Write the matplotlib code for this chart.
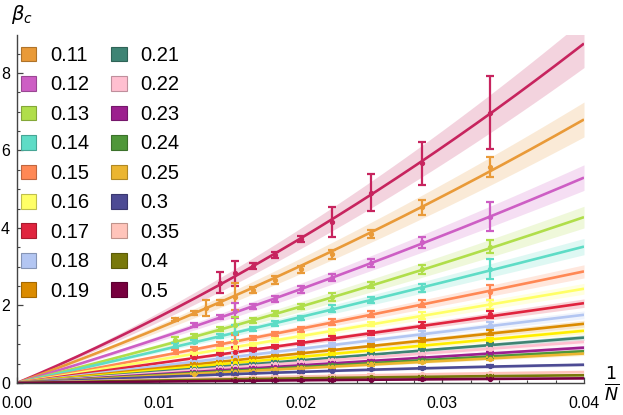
import numpy as np
import matplotlib
matplotlib.use('Agg')
import matplotlib.pyplot as plt
from matplotlib.patches import Patch
from matplotlib.ticker import MultipleLocator, FixedLocator

plt.rcParams['font.family'] = ['Liberation Sans', 'DejaVu Sans']

# fit parameter of each curve (legend label), 0.1 and 0.2 are drawn but not listed
params = ['0.1', '0.11', '0.12', '0.13', '0.14', '0.15', '0.16', '0.17', '0.18', '0.19',
          '0.2', '0.21', '0.22', '0.23', '0.24', '0.25', '0.3', '0.35', '0.4', '0.5']
legend_params = ['0.11', '0.12', '0.13', '0.14', '0.15', '0.16', '0.17', '0.18', '0.19',
                 '0.21', '0.22', '0.23', '0.24', '0.25', '0.3', '0.35', '0.4', '0.5']

# fitted curve beta = a/N + b/N^2
fit_a = [154, 132, 109.5, 90, 82, 68, 60, 51.5, 44, 38.2,
         33.7, 29.3, 26.5, 22.8, 20.5, 19, 17, 9.8, 7, 4]
fit_b = [1625, 950, 575, 425, 150, 100, 20, 0, 0, 0,
         0, 0, 0, 0, 0, 0, -130, -70, -50, -25]
# half width of the confidence band at 1/N = 0.04
band40 = [0.62, 0.45, 0.33, 0.28, 0.21, 0.17, 0.14, 0.11, 0.1, 0.09,
          0.08, 0.07, 0.07, 0.06, 0.05, 0.05, 0.04, 0.06, 0.03, 0.02]

# measured points
pt_n = [
    [70, 65, 60, 55, 50, 45, 40, 35, 30],
    [90, 80, 75, 70, 65, 60, 55, 50, 45, 40, 35, 30],
    [80, 70, 65, 60, 55, 50, 45, 40, 35, 30],
    [90, 80, 70, 65, 60, 55, 50, 45, 40, 35, 30],
    [90, 80, 70, 65, 60, 55, 50, 45, 40, 35, 30],
    [90, 80, 70, 65, 60, 55, 50, 45, 40, 35, 30],
    [80, 70, 65, 60, 55, 50, 45, 40, 35, 30],
    [80, 70, 65, 60, 55, 50, 45, 40, 35, 30],
    [80, 70, 65, 60, 55, 50, 45, 40, 35, 30],
    [80, 70, 65, 60, 55, 50, 45, 40, 35, 30],
    [80, 70, 65, 60, 55, 50, 45, 40, 35, 30],
    [80, 70, 65, 60, 55, 50, 45, 40, 35, 30],
    [80, 70, 65, 60, 55, 50, 45, 40, 35, 30],
    [80, 70, 65, 60, 55, 50, 45, 40, 35, 30],
    [80, 70, 65, 60, 55, 50, 45, 40, 35, 30],
    [80, 70, 65, 60, 55, 50, 45, 40, 35, 30],
    [70, 65, 60, 55, 50, 45, 40, 35, 30],
    [65, 60, 55, 50, 45, 40, 35, 30],
    [65, 60, 55, 50, 45, 40, 35, 30],
    [65, 60, 55, 50, 45, 40, 35, 30],
]
pt_beta = [
    [2.59, 2.83, 3.02, 3.30, 3.72, 4.15, 4.91, 5.67, 6.98],
    [1.64, 1.81, 1.94, 2.07, 2.23, 2.40, 2.66, 2.93, 3.32, 3.84, 4.53, 5.58],
    [1.50, 1.70, 1.87, 1.97, 2.16, 2.42, 2.72, 3.09, 3.63, 4.29],
    [1.11, 1.21, 1.39, 1.50, 1.62, 1.80, 1.97, 2.21, 2.53, 2.93, 3.52],
    [0.97, 1.07, 1.22, 1.30, 1.39, 1.54, 1.68, 1.92, 2.14, 2.46, 2.95],
    [0.80, 0.88, 1.00, 1.07, 1.15, 1.27, 1.38, 1.57, 1.78, 2.05, 2.34],
    [0.76, 0.87, 0.93, 1.00, 1.10, 1.22, 1.33, 1.52, 1.74, 2.03],
    [0.65, 0.74, 0.80, 0.86, 0.94, 1.03, 1.15, 1.30, 1.50, 1.78],
    [0.55, 0.63, 0.68, 0.73, 0.80, 0.88, 0.98, 1.10, 1.27, 1.50],
    [0.48, 0.55, 0.59, 0.64, 0.69, 0.77, 0.85, 0.96, 1.10, 1.30],
    [0.42, 0.48, 0.52, 0.56, 0.61, 0.67, 0.75, 0.84, 0.96, 1.12],
    [0.37, 0.42, 0.45, 0.49, 0.53, 0.59, 0.65, 0.73, 0.84, 0.98],
    [0.33, 0.38, 0.41, 0.44, 0.48, 0.53, 0.59, 0.66, 0.76, 0.88],
    [0.29, 0.33, 0.35, 0.38, 0.41, 0.46, 0.51, 0.57, 0.65, 0.76],
    [0.26, 0.29, 0.32, 0.34, 0.37, 0.41, 0.46, 0.51, 0.59, 0.68],
    [0.24, 0.27, 0.29, 0.32, 0.35, 0.38, 0.42, 0.48, 0.54, 0.63],
    [0.22, 0.23, 0.25, 0.27, 0.29, 0.32, 0.35, 0.39, 0.43],
    [0.134, 0.144, 0.155, 0.168, 0.183, 0.201, 0.223, 0.249],
    [0.096, 0.103, 0.111, 0.12, 0.131, 0.144, 0.159, 0.178],
    [0.056, 0.06, 0.065, 0.07, 0.077, 0.084, 0.094, 0.106],
]
pt_err = [
    [0.28, 0.32, 0.08, 0.07, 0.08, 0.38, 0.48, 0.55, 0.95],
    [0.05, 0.06, 0.2, 0.06, 0.35, 0.08, 0.1, 0.1, 0.12, 0.1, 0.2, 0.26],
    [0.05, 0.06, 0.2, 0.07, 0.08, 0.09, 0.1, 0.1, 0.14, 0.38],
    [0.07, 0.05, 0.06, 0.2, 0.06, 0.07, 0.07, 0.1, 0.08, 0.12, 0.16],
    [0.07, 0.05, 0.05, 0.2, 0.05, 0.06, 0.06, 0.1, 0.07, 0.1, 0.26],
    [0.06, 0.05, 0.05, 0.18, 0.05, 0.05, 0.06, 0.08, 0.07, 0.08, 0.2],
    [0.04, 0.04, 0.15, 0.04, 0.05, 0.05, 0.06, 0.06, 0.08, 0.12],
    [0.04, 0.04, 0.12, 0.04, 0.04, 0.05, 0.05, 0.05, 0.07, 0.09],
    [0.04, 0.04, 0.1, 0.04, 0.04, 0.04, 0.05, 0.05, 0.06, 0.08],
    [0.03, 0.03, 0.08, 0.03, 0.04, 0.04, 0.04, 0.05, 0.05, 0.06],
    [0.03, 0.03, 0.07, 0.03, 0.03, 0.03, 0.04, 0.04, 0.05, 0.05],
    [0.03, 0.03, 0.06, 0.03, 0.03, 0.03, 0.03, 0.04, 0.04, 0.05],
    [0.03, 0.03, 0.05, 0.03, 0.03, 0.03, 0.03, 0.03, 0.04, 0.04],
    [0.02, 0.02, 0.04, 0.02, 0.03, 0.03, 0.03, 0.03, 0.03, 0.04],
    [0.02, 0.02, 0.04, 0.02, 0.02, 0.03, 0.03, 0.03, 0.03, 0.03],
    [0.02, 0.02, 0.04, 0.02, 0.02, 0.02, 0.03, 0.03, 0.03, 0.03],
    [0.02, 0.03, 0.02, 0.02, 0.02, 0.02, 0.02, 0.03, 0.03],
    [0.02, 0.02, 0.02, 0.02, 0.02, 0.02, 0.02, 0.02],
    [0.015, 0.015, 0.015, 0.015, 0.015, 0.015, 0.015, 0.02],
    [0.015, 0.015, 0.015, 0.015, 0.015, 0.015, 0.015, 0.015],
]

colors = ['#C7245E', '#E99A38', '#CD5EC4', '#B0DE4A', '#5EDCC6', '#FF8855', '#FFFF66',
          '#E0243E', '#B3C6F2', '#DB8B00', '#FFEE00', '#3E8474', '#FFBFD0', '#9C1F8E',
          '#4F9739', '#EBB530', '#4D4B94', '#FFC4BA', '#78780A', '#77003E']

fig = plt.figure(figsize=(6.23, 4.15), dpi=100)
ax = fig.add_axes([17/623, 32/415, 567/623, 348/415])

xs = np.linspace(0, 0.04, 200)
for i in range(len(params)):
    c = colors[i]
    curve = fit_a[i]*xs + fit_b[i]*xs**2
    hw = band40[i]*curve/curve[-1]
    ax.fill_between(xs, curve-hw, curve+hw, color=c, alpha=0.2, lw=0, zorder=1)
    ax.plot(xs, curve, color=c, lw=1.9, zorder=2, solid_capstyle='butt')

for i in range(len(params)):
    x = 1/np.array(pt_n[i], dtype=float)
    ax.errorbar(x, pt_beta[i], yerr=pt_err[i], fmt='o', ms=2.8, color=colors[i],
                ecolor=colors[i], elinewidth=1.6, capsize=3.2, capthick=1.6, zorder=3)

ax.set_xlim(0, 0.04)
ax.set_ylim(0, 8.98)
for s in ['top', 'right']:
    ax.spines[s].set_visible(False)
for s in ['left', 'bottom']:
    ax.spines[s].set_color('#444444')
    ax.spines[s].set_linewidth(1.0)
ax.spines['bottom'].set_zorder(5)

ax.xaxis.set_major_locator(FixedLocator([0, 0.01, 0.02, 0.03, 0.04]))
ax.xaxis.set_minor_locator(MultipleLocator(0.002))
ax.yaxis.set_major_locator(FixedLocator([0, 2, 4, 6, 8]))
ax.yaxis.set_minor_locator(MultipleLocator(0.5))
ax.set_xticklabels(['0.00', '0.01', '0.02', '0.03', '0.04'])
ax.set_yticklabels(['0', '2', '4', '6', '8'])
ax.tick_params(which='both', direction='in', color='#444444', labelsize=11.5, labelcolor='black')
ax.tick_params(which='major', length=4, width=0.9)
ax.tick_params(which='minor', length=2.5, width=0.8)
ax.tick_params(axis='x', pad=9.5)
ax.tick_params(axis='y', pad=5)

fig.text(22/623, 1-14/415, r'$\beta_c$', fontsize=14, ha='center', va='center')
fig.text(612/623, 1-384/415, r'$\frac{1}{N}$', fontsize=18, ha='center', va='center')

handles = []
for lab in legend_params:
    c = colors[params.index(lab)]
    rgb = np.array(matplotlib.colors.to_rgb(c))
    handles.append(Patch(facecolor=c, edgecolor=tuple(rgb*0.75), lw=0.8, label=lab))
ax.legend(handles=handles, ncol=2, loc='upper left', frameon=False,
          bbox_to_anchor=(19/623, 1-44/415), bbox_transform=fig.transFigure,
          fontsize=14.5, handlelength=0.75, handleheight=0.75, handletextpad=0.7,
          columnspacing=1.1, labelspacing=0.52, borderpad=0.1, borderaxespad=0)

fig.savefig('out.png', dpi=100)
